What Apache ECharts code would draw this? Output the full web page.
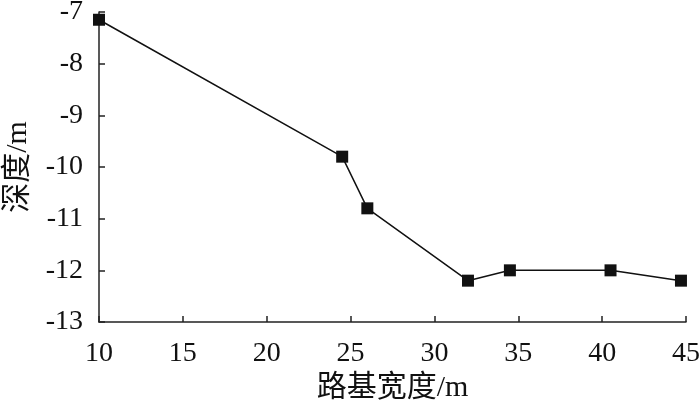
<!DOCTYPE html>
<html>
<head>
<meta charset="utf-8">
<script src="https://cdn.jsdelivr.net/npm/echarts@6/dist/echarts.min.js"></script>
<style>
html, body { margin: 0; padding: 0; background: #fff; }
#chart { width: 700px; height: 403px; }
</style>
</head>
<body>
<div id="chart"></div>
<script>
// 路基宽度 vs 深度
var widths = [10, 24.5, 26, 32, 34.5, 40.5, 44.7];
var depths = [-7.15, -9.8, -10.8, -12.2, -12.0, -12.0, -12.2];

var font = '"Liberation Serif", "Times New Roman", "Noto Sans CJK SC", serif';
var points = widths.map(function(w, i) { return [w, depths[i]]; });

var myChart = echarts.init(document.getElementById('chart'));
var option = {
	animation: false,
	grid: { left: 99, right: 14, top: 12, bottom: 81, outerBoundsMode: 'none', containLabel: false },
	xAxis: {
		type: 'value',
		min: 10, max: 45, interval: 5,
		name: '路基宽度/m',
		nameLocation: 'middle',
		nameGap: 45,
		nameTextStyle: { color: '#111', fontSize: 30, fontFamily: font },
		axisLine: { show: true, lineStyle: { color: '#222', width: 1.5 } },
		axisTick: { show: true, inside: true, length: 6, lineStyle: { color: '#222', width: 1.5 } },
		axisLabel: { color: '#111', fontSize: 28, fontFamily: font, margin: 18 },
		splitLine: { show: false }
	},
	yAxis: {
		type: 'value',
		min: -13, max: -7, interval: 1,
		name: '深度/m',
		nameLocation: 'middle',
		nameGap: 66,
		nameRotate: 90,
		nameTextStyle: { color: '#111', fontSize: 30, fontFamily: font },
		axisLine: { show: true, lineStyle: { color: '#222', width: 1.5 } },
		axisTick: { show: true, inside: true, length: 6, lineStyle: { color: '#222', width: 1.5 } },
		axisLabel: { color: '#111', fontSize: 28, fontFamily: font, margin: 16 },
		splitLine: { show: false }
	},
	series: [{
		type: 'line',
		data: points,
		symbol: 'rect',
		symbolSize: 12,
		lineStyle: { color: '#111', width: 1.5 },
		itemStyle: { color: '#111' }
	}]
};
myChart.setOption(option);
</script>
</body>
</html>
